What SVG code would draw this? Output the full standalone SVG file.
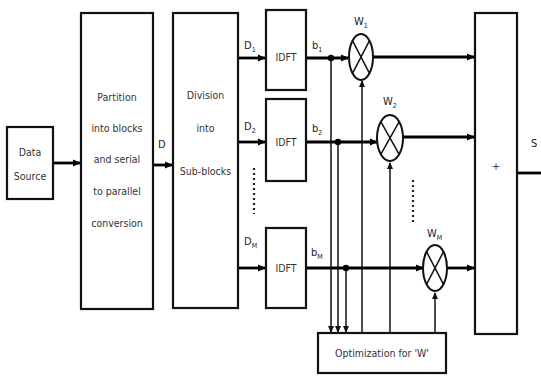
<svg xmlns="http://www.w3.org/2000/svg" width="541" height="376" viewBox="0 0 541 376">
<style>
.box{fill:#fff;stroke:#111;stroke-width:2.2}
.sig{fill:none;stroke:#000;stroke-width:2.8}
.ctl{fill:none;stroke:#111;stroke-width:1.5}
.t{font-family:"DejaVu Sans Condensed","Liberation Sans",sans-serif;font-size:10.5px;fill:#333;text-anchor:middle}
.lb{font-family:"DejaVu Sans Condensed","Liberation Sans",sans-serif;font-size:11px;fill:#222}
.sub{font-size:7px}
.mix{fill:#fff;stroke:#111;stroke-width:2}
</style>
<defs>
<marker id="ah" markerWidth="8" markerHeight="8" refX="7" refY="4" orient="auto" markerUnits="userSpaceOnUse">
<path d="M0,0.5 L8,4 L0,7.5 z" fill="#000"/>
</marker>
<marker id="ahs" markerWidth="7" markerHeight="7" refX="6" refY="3.5" orient="auto" markerUnits="userSpaceOnUse">
<path d="M0,0.5 L7,3.5 L0,6.5 z" fill="#111"/>
</marker>
</defs>

<g id="connectors">
<path class="sig" d="M53,163 H80" marker-end="url(#ah)"/>
<path class="sig" d="M153,165 H172" marker-end="url(#ah)"/>
<path class="sig" d="M238,58 H265" marker-end="url(#ah)"/>
<path class="sig" d="M238,142 H265" marker-end="url(#ah)"/>
<path class="sig" d="M238,268 H265" marker-end="url(#ah)"/>
<path class="sig" d="M306,58 H348" marker-end="url(#ah)"/>
<path class="sig" d="M306,142 H377" marker-end="url(#ah)"/>
<path class="sig" d="M306,268 H423" marker-end="url(#ah)"/>
<path class="sig" d="M373,57 H474" marker-end="url(#ah)"/>
<path class="sig" d="M403,137 H474" marker-end="url(#ah)"/>
<path class="sig" d="M447,268 H474" marker-end="url(#ah)"/>
<path class="sig" d="M517,173 H541"/>
<path class="ctl" d="M331,58 V332" marker-end="url(#ahs)"/>
<path class="ctl" d="M338,142 V332" marker-end="url(#ahs)"/>
<path class="ctl" d="M346,268 V332" marker-end="url(#ahs)"/>
<path class="ctl" d="M362,333 V81" marker-end="url(#ahs)"/>
<path class="ctl" d="M390,333 V163" marker-end="url(#ahs)"/>
<path class="ctl" d="M435,333 V293" marker-end="url(#ahs)"/>
<circle cx="331" cy="58" r="3.2" fill="#000"/>
<circle cx="338" cy="142" r="3.2" fill="#000"/>
<circle cx="346" cy="268" r="3.2" fill="#000"/>
<path d="M254,168 V214" stroke="#222" stroke-width="2.2" stroke-dasharray="2,3" fill="none"/>
<path d="M413,180 V224" stroke="#222" stroke-width="2.2" stroke-dasharray="2,3" fill="none"/>
</g>

<g id="data-source">
<rect class="box" x="7" y="127" width="46" height="72"/>
<text class="t" x="30" y="156" font-size="9.5">Data</text>
<text class="t" x="30" y="180" font-size="9.5">Source</text>
</g>

<g id="partition">
<rect class="box" x="81" y="13" width="72" height="296"/>
<text class="t" x="117" y="101">Partition</text>
<text class="t" x="117" y="132">into blocks</text>
<text class="t" x="117" y="163">and serial</text>
<text class="t" x="117" y="195">to parallel</text>
<text class="t" x="117" y="227">conversion</text>
</g>
<text class="lb" x="158" y="148">D</text>

<g id="division">
<rect class="box" x="173" y="13" width="65" height="295"/>
<text class="t" x="205.5" y="99">Division</text>
<text class="t" x="205.5" y="132">into</text>
<text class="t" x="205.5" y="175">Sub-blocks</text>
</g>

<g id="idft1">
<rect class="box" x="266" y="10" width="40" height="80"/>
<text class="t" x="286" y="61">IDFT</text>
</g>
<g id="idft2">
<rect class="box" x="266" y="99" width="40" height="82"/>
<text class="t" x="286" y="146">IDFT</text>
</g>
<g id="idft3">
<rect class="box" x="266" y="228" width="40" height="80"/>
<text class="t" x="286" y="272">IDFT</text>
</g>

<text class="lb" x="244" y="49">D<tspan class="sub" dy="3">1</tspan></text>
<text class="lb" x="244" y="130">D<tspan class="sub" dy="3">2</tspan></text>
<text class="lb" x="244" y="245">D<tspan class="sub" dy="3">M</tspan></text>
<text class="lb" x="312" y="49">b<tspan class="sub" dy="3">1</tspan></text>
<text class="lb" x="312" y="132">b<tspan class="sub" dy="3">2</tspan></text>
<text class="lb" x="311" y="256">b<tspan class="sub" dy="3">M</tspan></text>

<g id="mixer1">
<ellipse class="mix" cx="361" cy="57" rx="12" ry="23"/>
<path class="ctl" stroke-width="1.6" d="M352.5,40.7 L369.5,73.3 M369.5,40.7 L352.5,73.3"/>
<text class="lb" x="354" y="25">W<tspan class="sub" dy="3">1</tspan></text>
</g>
<g id="mixer2">
<ellipse class="mix" cx="390" cy="138" rx="13" ry="23"/>
<path class="ctl" stroke-width="1.6" d="M380.8,121.7 L399.2,154.3 M399.2,121.7 L380.8,154.3"/>
<text class="lb" x="383" y="105">W<tspan class="sub" dy="3">2</tspan></text>
</g>
<g id="mixerM">
<ellipse class="mix" cx="435" cy="268" rx="12" ry="23"/>
<path class="ctl" stroke-width="1.6" d="M426.5,251.7 L443.5,284.3 M443.5,251.7 L426.5,284.3"/>
<text class="lb" x="427" y="237">W<tspan class="sub" dy="3">M</tspan></text>
</g>

<g id="sum">
<rect class="box" x="475" y="13" width="42" height="321"/>
<text class="t" x="496" y="170" font-size="13">+</text>
</g>
<text class="lb" x="531" y="147" font-size="13">S</text>

<g id="optimization">
<rect class="box" x="318" y="333" width="128" height="40"/>
<text class="t" x="382" y="357">Optimization for 'W'</text>
</g>
</svg>
